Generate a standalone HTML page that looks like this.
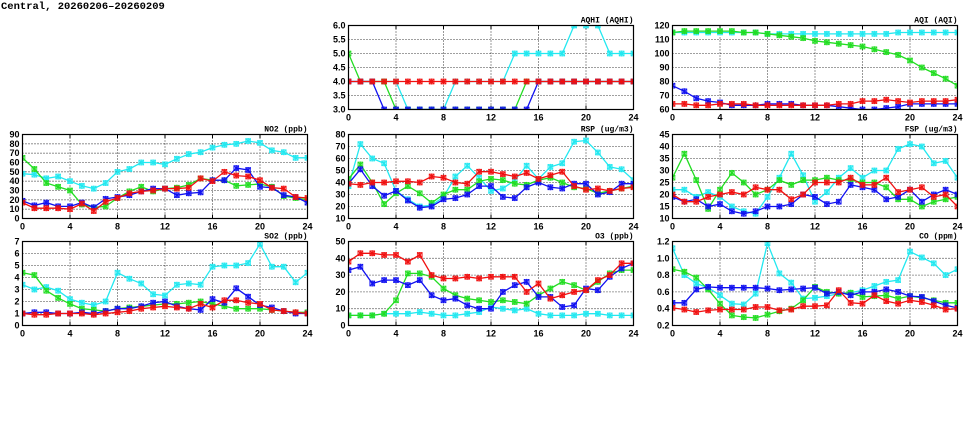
<!DOCTYPE html>
<html><head><meta charset="utf-8"><style>
html,body{margin:0;padding:0;background:#fff;width:975px;height:447px;overflow:hidden}
svg{display:block}
text{font-family:"Liberation Sans",sans-serif;font-size:9px;font-weight:bold;fill:#000}
.yl{text-anchor:end}.xl{text-anchor:middle}.tt{text-anchor:end;font-family:"Liberation Mono",monospace;font-size:8px}
.hd{font-family:"Liberation Mono",monospace;font-size:10.5px}
.g{stroke:#000;stroke-width:0.8;stroke-dasharray:1,2;fill:none}
.b{stroke:#000;stroke-width:1.2;fill:none}
</style></head><body>
<svg id="s" width="975" height="447" xmlns="http://www.w3.org/2000/svg">
<text class="hd" x="1" y="9">Central, 20260206–20260209</text>

<g transform="translate(348.5,25.5)"><text class="tt" x="285" y="-3">AQHI (AQHI)</text>
<text class="yl" x="-3" y="87">3.0</text><text class="yl" x="-3" y="73">3.5</text><text class="yl" x="-3" y="59">4.0</text><text class="yl" x="-3" y="45">4.5</text><text class="yl" x="-3" y="31">5.0</text><text class="yl" x="-3" y="17">5.5</text><text class="yl" x="-3" y="3">6.0</text>
<text class="xl" x="0" y="95">0</text><text class="xl" x="47.5" y="95">4</text><text class="xl" x="95" y="95">8</text><text class="xl" x="142.5" y="95">12</text><text class="xl" x="190" y="95">16</text><text class="xl" x="237.5" y="95">20</text><text class="xl" x="285" y="95">24</text></g>

<g transform="translate(672.5,25.5)"><text class="tt" x="285" y="-3">AQI (AQI)</text>
<text class="yl" x="-3" y="87">60</text><text class="yl" x="-3" y="73">70</text><text class="yl" x="-3" y="59">80</text><text class="yl" x="-3" y="45">90</text><text class="yl" x="-3" y="31">100</text><text class="yl" x="-3" y="17">110</text><text class="yl" x="-3" y="3">120</text>
<text class="xl" x="0" y="95">0</text><text class="xl" x="47.5" y="95">4</text><text class="xl" x="95" y="95">8</text><text class="xl" x="142.5" y="95">12</text><text class="xl" x="190" y="95">16</text><text class="xl" x="237.5" y="95">20</text><text class="xl" x="285" y="95">24</text></g>

<g transform="translate(22.5,134.5)"><text class="tt" x="285" y="-3">NO2 (ppb)</text>
<text class="yl" x="-3" y="87">0</text><text class="yl" x="-3" y="77.7">10</text><text class="yl" x="-3" y="68.3">20</text><text class="yl" x="-3" y="59">30</text><text class="yl" x="-3" y="49.7">40</text><text class="yl" x="-3" y="40.3">50</text><text class="yl" x="-3" y="31">60</text><text class="yl" x="-3" y="21.7">70</text><text class="yl" x="-3" y="12.3">80</text><text class="yl" x="-3" y="3">90</text>
<text class="xl" x="0" y="95">0</text><text class="xl" x="47.5" y="95">4</text><text class="xl" x="95" y="95">8</text><text class="xl" x="142.5" y="95">12</text><text class="xl" x="190" y="95">16</text><text class="xl" x="237.5" y="95">20</text><text class="xl" x="285" y="95">24</text></g>

<g transform="translate(348.5,134.5)"><text class="tt" x="285" y="-3">RSP (ug/m3)</text>
<text class="yl" x="-3" y="87">10</text><text class="yl" x="-3" y="75">20</text><text class="yl" x="-3" y="63">30</text><text class="yl" x="-3" y="51">40</text><text class="yl" x="-3" y="39">50</text><text class="yl" x="-3" y="27">60</text><text class="yl" x="-3" y="15">70</text><text class="yl" x="-3" y="3">80</text>
<text class="xl" x="0" y="95">0</text><text class="xl" x="47.5" y="95">4</text><text class="xl" x="95" y="95">8</text><text class="xl" x="142.5" y="95">12</text><text class="xl" x="190" y="95">16</text><text class="xl" x="237.5" y="95">20</text><text class="xl" x="285" y="95">24</text></g>

<g transform="translate(672.5,134.5)"><text class="tt" x="285" y="-3">FSP (ug/m3)</text>
<text class="yl" x="-3" y="87">10</text><text class="yl" x="-3" y="75">15</text><text class="yl" x="-3" y="63">20</text><text class="yl" x="-3" y="51">25</text><text class="yl" x="-3" y="39">30</text><text class="yl" x="-3" y="27">35</text><text class="yl" x="-3" y="15">40</text><text class="yl" x="-3" y="3">45</text>
<text class="xl" x="0" y="95">0</text><text class="xl" x="47.5" y="95">4</text><text class="xl" x="95" y="95">8</text><text class="xl" x="142.5" y="95">12</text><text class="xl" x="190" y="95">16</text><text class="xl" x="237.5" y="95">20</text><text class="xl" x="285" y="95">24</text></g>

<g transform="translate(22.5,241.5)"><text class="tt" x="285" y="-3">SO2 (ppb)</text>
<text class="yl" x="-3" y="87">0</text><text class="yl" x="-3" y="75">1</text><text class="yl" x="-3" y="63">2</text><text class="yl" x="-3" y="51">3</text><text class="yl" x="-3" y="39">4</text><text class="yl" x="-3" y="27">5</text><text class="yl" x="-3" y="15">6</text><text class="yl" x="-3" y="3">7</text>
<text class="xl" x="0" y="95">0</text><text class="xl" x="47.5" y="95">4</text><text class="xl" x="95" y="95">8</text><text class="xl" x="142.5" y="95">12</text><text class="xl" x="190" y="95">16</text><text class="xl" x="237.5" y="95">20</text><text class="xl" x="285" y="95">24</text></g>

<g transform="translate(348.5,241.5)"><text class="tt" x="285" y="-3">O3 (ppb)</text>
<text class="yl" x="-3" y="87">0</text><text class="yl" x="-3" y="70.2">10</text><text class="yl" x="-3" y="53.4">20</text><text class="yl" x="-3" y="36.6">30</text><text class="yl" x="-3" y="19.8">40</text><text class="yl" x="-3" y="3">50</text>
<text class="xl" x="0" y="95">0</text><text class="xl" x="47.5" y="95">4</text><text class="xl" x="95" y="95">8</text><text class="xl" x="142.5" y="95">12</text><text class="xl" x="190" y="95">16</text><text class="xl" x="237.5" y="95">20</text><text class="xl" x="285" y="95">24</text></g>

<g transform="translate(672.5,241.5)"><text class="tt" x="285" y="-3">CO (ppm)</text>
<text class="yl" x="-3" y="87">0.2</text><text class="yl" x="-3" y="70.2">0.4</text><text class="yl" x="-3" y="53.4">0.6</text><text class="yl" x="-3" y="36.6">0.8</text><text class="yl" x="-3" y="19.8">1.0</text><text class="yl" x="-3" y="3">1.2</text>
<text class="xl" x="0" y="95">0</text><text class="xl" x="47.5" y="95">4</text><text class="xl" x="95" y="95">8</text><text class="xl" x="142.5" y="95">12</text><text class="xl" x="190" y="95">16</text><text class="xl" x="237.5" y="95">20</text><text class="xl" x="285" y="95">24</text></g>
</svg>
<script>
var NS="http://www.w3.org/2000/svg",S=document.getElementById("s");
var C={c:"#22e8f0",g:"#22dd22",b:"#1010f0",r:"#f01010"};
var P=[
[348.5,25.5,3,6,0.5,{c:[4,4,4,4,4,3,3,3,3,4,4,4,4,4,5,5,5,5,5,6,6,6,5,5,5],g:[5,4,4,4,3,3,3,3,3,3,3,3,3,3,3,4,4,4,4,4,4,4,4,4,4],b:[4,4,4,3,3,3,3,3,3,3,3,3,3,3,3,3,4,4,4,4,4,4,4,4,4],r:[4,4,4,4,4,4,4,4,4,4,4,4,4,4,4,4,4,4,4,4,4,4,4,4,4]}],
[672.5,25.5,60,120,10,{c:[115,115,115,115,115,115,115,115,114,114,114,114,114,114,114,114,114,114,114,115,115,115,115,115,115],g:[115,116,116,116,116,116,115,115,114,113,112,111,109,108,107,106,105,103,101,99,95,90,86,82,77],b:[77,73,68,66,65,63,63,63,64,64,64,63,63,63,62,61,60,60,61,62,64,64,64,64,64],r:[64,64,63,63,64,64,64,63,63,63,63,63,63,63,64,64,66,66,67,66,65,66,66,66,67]}],
[22.5,134.5,0,90,10,{c:[48,47,43,45,40,35,32,38,50,53,60,60,58,64,69,71,76,79,80,83,81,73,71,65,65],g:[65,53,38,34,30,15,12,13,22,29,34,29,32,33,36,43,41,41,35,36,37,34,24,22,20],b:[19,14,17,13,13,17,12,21,23,25,29,32,32,25,27,28,41,41,54,52,34,33,25,23,17],r:[17,11,11,11,10,16,8,18,22,27,29,30,32,32,33,43,40,50,46,45,41,33,32,23,22]}],
[348.5,134.5,10,80,10,{c:[37,72,60,56,33,26,20,21,28,45,54,44,33,35,42,54,43,53,56,74,75,65,53,51,42],g:[43,55,40,22,31,37,31,23,30,34,34,41,43,42,39,38,42,44,40,36,35,31,33,35,37],b:[39,51,37,29,33,25,19,20,26,27,30,37,37,28,27,36,40,36,35,39,39,30,32,39,39],r:[39,38,40,40,41,41,40,45,44,40,39,49,49,47,45,48,43,46,49,37,34,35,33,35,36]}],
[672.5,134.5,10,45,5,{c:[22,22,19,21,19,15,13,12,19,27,37,28,17,21,27,31,27,30,30,39,41,40,33,34,27],g:[27,37,26,14,22,29,25,20,22,26,24,26,26,27,26,26,25,25,23,18,18,15,17,18,19],b:[19,17,18,15,16,13,12,13,15,15,16,20,19,16,17,24,23,22,18,19,22,17,20,22,20],r:[20,17,17,19,20,21,20,23,22,22,18,20,25,25,25,27,24,24,27,21,22,23,19,20,15]}],
[22.5,241.5,0,7,1,{c:[3.4,3.0,3.2,2.9,2.2,1.9,1.7,2.0,4.4,3.9,3.5,2.6,2.5,3.4,3.5,3.4,4.9,5.0,5.0,5.2,6.8,4.9,4.9,3.6,4.4],g:[4.4,4.2,2.9,2.3,1.8,1.4,1.3,1.2,1.4,1.5,1.6,1.7,1.8,1.8,1.9,2.0,1.8,1.6,1.4,1.4,1.4,1.3,1.2,1.1,1.1],b:[1.0,1.1,1.1,1.0,1.0,1.1,1.0,1.2,1.4,1.4,1.6,1.9,2.0,1.6,1.4,1.3,2.2,1.9,3.1,2.4,1.7,1.5,1.2,1.0,1.0],r:[1.0,0.9,0.9,1.0,1.0,1.0,0.9,1.0,1.1,1.2,1.4,1.5,1.6,1.5,1.4,1.8,1.5,2.1,2.1,1.9,1.8,1.3,1.2,1.1,1.0]}],
[348.5,241.5,0,50,10,{c:[6,6,6,7,7,7,8,7,6,6,7,8,11,10,9,10,7,6,6,6,7,7,6,6,6],g:[6,6,6,7,15,31,31,29,22,18,16,15,14,15,14,13,18,22,26,24,21,26,31,33,33],b:[33,35,25,27,27,24,27,18,15,16,12,10,10,20,24,26,17,17,11,12,22,21,29,34,37],r:[38,43,43,42,42,38,42,30,28,28,29,28,29,29,29,20,25,16,18,20,21,27,30,37,37]}],
[672.5,241.5,0.2,1.2,0.2,{c:[1.12,0.8,0.7,0.65,0.56,0.46,0.45,0.58,1.18,0.82,0.71,0.52,0.53,0.55,0.58,0.59,0.62,0.67,0.72,0.74,1.08,1.01,0.94,0.8,0.87],g:[0.87,0.84,0.77,0.63,0.46,0.32,0.30,0.29,0.33,0.37,0.40,0.50,0.66,0.60,0.58,0.59,0.54,0.55,0.56,0.52,0.55,0.53,0.50,0.47,0.47],b:[0.47,0.47,0.63,0.66,0.65,0.65,0.65,0.65,0.64,0.62,0.63,0.64,0.65,0.58,0.60,0.56,0.60,0.60,0.63,0.60,0.55,0.54,0.49,0.44,0.41],r:[0.41,0.39,0.36,0.38,0.39,0.39,0.39,0.42,0.42,0.38,0.39,0.43,0.43,0.44,0.62,0.47,0.46,0.56,0.49,0.46,0.50,0.48,0.44,0.39,0.40]}]
];
function el(t,a,p){var e=document.createElementNS(NS,t);for(var k in a)e.setAttribute(k,a[k]);(p||S).appendChild(e);return e;}
var W=285,H=84;
P.forEach(function(p){
 var x0=p[0],y0=p[1],lo=p[2],hi=p[3],st=p[4],d=p[5];
 var g=el("g",{transform:"translate("+x0+","+y0+")"});
 var n=Math.round((hi-lo)/st);
 for(var i=1;i<n;i++){var y=H-H*i/n;el("line",{x1:0,x2:W,y1:y,y2:y,"class":"g"},g);}
 for(var i=1;i<6;i++){var x=W*i/6;el("line",{x1:x,x2:x,y1:0,y2:H,"class":"g"},g);}
 for(var i=0;i<=6;i++){var x=W*i/6;el("line",{x1:x,x2:x,y1:H,y2:H-4,stroke:"#000"},g);el("line",{x1:x,x2:x,y1:0,y2:4,stroke:"#000"},g);}
 var cg=el("svg",{x:0,y:0,width:W,height:H,overflow:"hidden"},g);
 ["c","g","b","r"].forEach(function(k){
  var a=d[k],pts=[];
  for(var i=0;i<25;i++){pts.push([W*i/24,H-H*(a[i]-lo)/(hi-lo)]);}
  el("polyline",{points:pts.map(function(q){return q[0].toFixed(1)+","+q[1].toFixed(1)}).join(" "),fill:"none",stroke:C[k],"stroke-width":1.3},cg);
  pts.forEach(function(q){
   el("rect",{x:q[0]-2.5,y:q[1]-2.5,width:5,height:5,fill:C[k],"fill-opacity":0.45,stroke:C[k],"stroke-width":0.6},cg);
   el("path",{d:"M"+(q[0]-2.5)+","+(q[1]-2.5)+"l5,5m0,-5l-5,5M"+q[0]+","+(q[1]-3)+"v6",stroke:C[k],"stroke-width":1},cg);
  });
 });
 el("rect",{x:0,y:0,width:W,height:H,"class":"b"},g);
});
</script>
</body></html>
